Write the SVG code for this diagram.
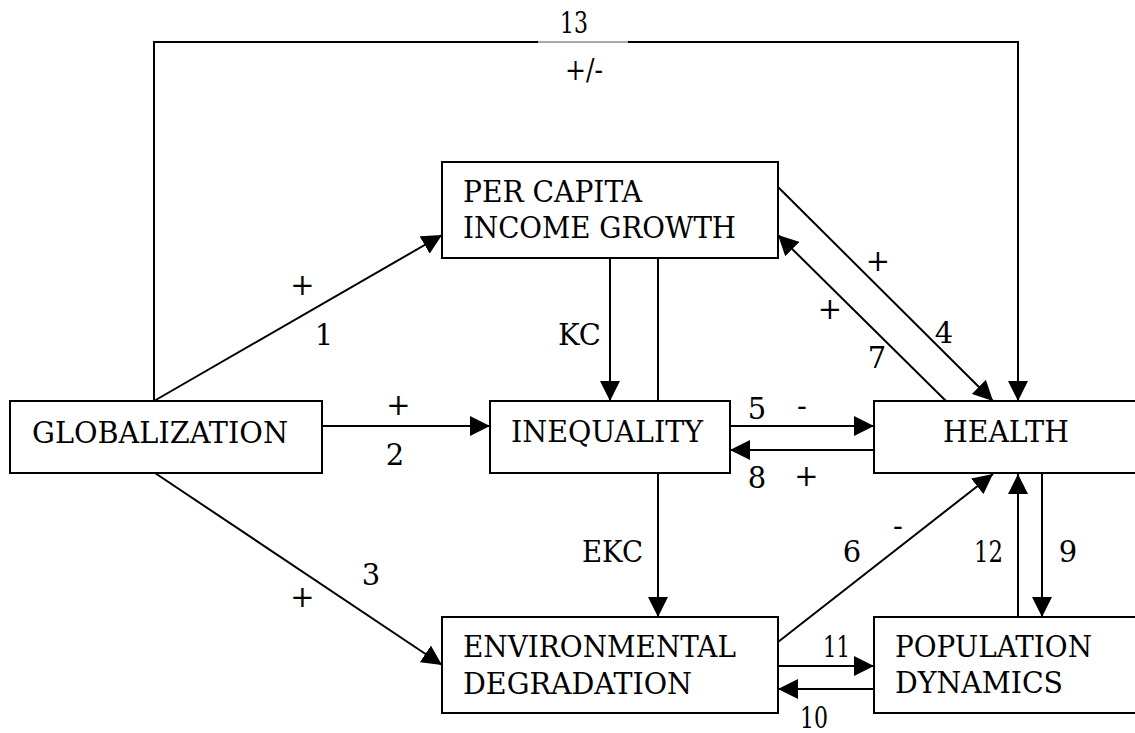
<svg xmlns="http://www.w3.org/2000/svg" width="1135" height="733" viewBox="0 0 1135 733">
<style>
.box{fill:#fff;stroke:#000;stroke-width:2}
.t{font-family:'DejaVu Serif','Liberation Serif',serif;font-size:29px;fill:#000}
.m{text-anchor:middle}
.c{fill:none;stroke:#000;stroke-width:2}
.a{marker-end:url(#ah)}
</style>
<defs>
<marker id="ah" markerUnits="userSpaceOnUse" markerWidth="21" markerHeight="20" refX="20" refY="10" orient="auto" viewBox="0 0 21 20">
<path d="M0,0 L20,10 L0,20 z" fill="#000"/>
</marker>
</defs>
<rect width="1135" height="733" fill="#fff"/>
<g id="connectors">
<path class="c" d="M154,401 V42 H538"/>
<path d="M538,42 H628" fill="none" stroke="#555" stroke-width="1"/>
<path class="c a" d="M628,42 H1018 V401"/>
<path class="c a" d="M154,401 L442,235"/>
<path class="c a" d="M322,426 H490"/>
<path class="c a" d="M155,473 L442,665"/>
<path class="c a" d="M778,187 L993,401"/>
<path class="c a" d="M946,401 L778,235"/>
<path class="c a" d="M610,258 V401"/>
<path class="c" d="M658,258 V401"/>
<path class="c a" d="M730,426 H874"/>
<path class="c a" d="M874,450 H730"/>
<path class="c a" d="M658,474 V617"/>
<path class="c a" d="M778,642 L993,474"/>
<path class="c a" d="M1018,617 V474"/>
<path class="c a" d="M1042,474 V617"/>
<path class="c a" d="M778,666 H874"/>
<path class="c a" d="M874,689 H778"/>
</g>
<g id="labels">
<text class="t" x="560" y="33" textLength="28" lengthAdjust="spacingAndGlyphs">13</text>
<text class="t" x="565" y="80" textLength="38" lengthAdjust="spacingAndGlyphs">+/-</text>
<text class="t m" x="302.5" y="295">+</text>
<text class="t m" x="324" y="345">1</text>
<text class="t m" x="398.5" y="415">+</text>
<text class="t m" x="395" y="465">2</text>
<text class="t m" x="371" y="585">3</text>
<text class="t m" x="302.5" y="607">+</text>
<text class="t m" x="878" y="271">+</text>
<text class="t m" x="944" y="343">4</text>
<text class="t m" x="830" y="319">+</text>
<text class="t m" x="877" y="368">7</text>
<text class="t" x="558" y="345" textLength="43" lengthAdjust="spacingAndGlyphs">KC</text>
<text class="t m" x="757" y="419">5</text>
<text class="t m" x="802" y="416">-</text>
<text class="t m" x="757" y="488">8</text>
<text class="t m" x="806.5" y="486">+</text>
<text class="t" x="582" y="562" textLength="61" lengthAdjust="spacingAndGlyphs">EKC</text>
<text class="t m" x="852" y="562">6</text>
<text class="t m" x="898" y="536">-</text>
<text class="t" x="974" y="562" textLength="29" lengthAdjust="spacingAndGlyphs">12</text>
<text class="t m" x="1068" y="562">9</text>
<text class="t" x="823" y="657" textLength="27" lengthAdjust="spacingAndGlyphs">11</text>
<text class="t" x="800" y="728" textLength="28" lengthAdjust="spacingAndGlyphs">10</text>
</g>
<g id="globalization">
<rect class="box" x="10" y="401" width="312" height="72"/>
<text class="t" x="32" y="443" textLength="256" lengthAdjust="spacingAndGlyphs">GLOBALIZATION</text>
</g>
<g id="per-capita-income-growth">
<rect class="box" x="442" y="162" width="336" height="96"/>
<text class="t" x="463" y="202" textLength="179" lengthAdjust="spacingAndGlyphs">PER CAPITA</text>
<text class="t" x="463" y="238" textLength="273" lengthAdjust="spacingAndGlyphs">INCOME GROWTH</text>
</g>
<g id="inequality">
<rect class="box" x="490" y="401" width="240" height="72"/>
<text class="t" x="511" y="442" textLength="192" lengthAdjust="spacingAndGlyphs">INEQUALITY</text>
</g>
<g id="health">
<rect class="box" x="874" y="401" width="270" height="72"/>
<text class="t" x="943" y="442" textLength="126" lengthAdjust="spacingAndGlyphs">HEALTH</text>
</g>
<g id="environmental-degradation">
<rect class="box" x="442" y="617" width="336" height="96"/>
<text class="t" x="463" y="657" textLength="273" lengthAdjust="spacingAndGlyphs">ENVIRONMENTAL</text>
<text class="t" x="463" y="694" textLength="229" lengthAdjust="spacingAndGlyphs">DEGRADATION</text>
</g>
<g id="population-dynamics">
<rect class="box" x="874" y="617" width="270" height="96"/>
<text class="t" x="895" y="657" textLength="197" lengthAdjust="spacingAndGlyphs">POPULATION</text>
<text class="t" x="895" y="693" textLength="168" lengthAdjust="spacingAndGlyphs">DYNAMICS</text>
</g>
</svg>
